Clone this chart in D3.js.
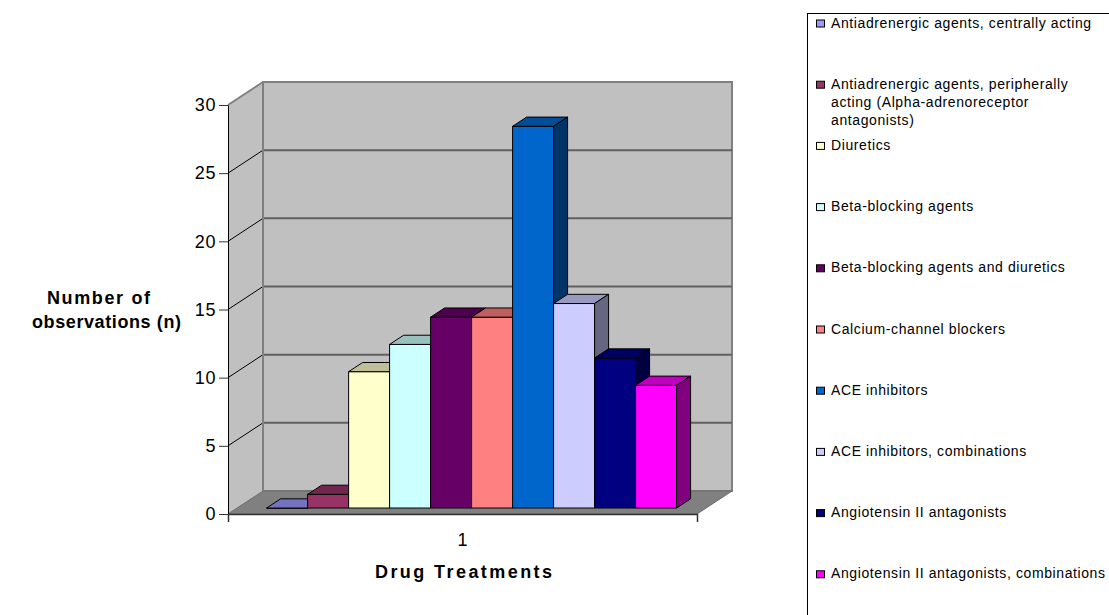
<!DOCTYPE html>
<html>
<head>
<meta charset="utf-8">
<script src="https://cdn.jsdelivr.net/npm/d3@7"></script>
<style>
  body { margin: 0; background: #fff; }
  svg { display: block; }
  text { font-family: "Liberation Sans", Arial, sans-serif; fill: #000; }
</style>
</head>
<body>
<svg id="chart" width="1109" height="615"></svg>
<script>
// ---- data ----
const categories = ["1"];
const seriesNames = [
  "Antiadrenergic agents, centrally acting",
  "Antiadrenergic agents, peripherally\nacting (Alpha-adrenoreceptor\nantagonists)",
  "Diuretics",
  "Beta-blocking agents",
  "Beta-blocking agents and diuretics",
  "Calcium-channel blockers",
  "ACE inhibitors",
  "ACE inhibitors, combinations",
  "Angiotensin II antagonists",
  "Angiotensin II antagonists, combinations"
];
const seriesValues = [0, 1, 10, 12, 14, 14, 28, 15, 11, 9];
const yTicks = [0, 5, 10, 15, 20, 25, 30];
const yTitleLines = ["Number of", "observations (n)"];
const xTitle = "Drug Treatments";

// ---- palette ----
const palette = ["#9999FF", "#993366", "#FFFFCC", "#CCFFFF", "#660066",
                 "#FF8080", "#0066CC", "#CCCCFF", "#000080", "#FF00FF"];

// ---- 3D frame geometry ----
const X0 = 228, X1 = 697;          // front edge of the floor
const DX = 35, DY = -23;           // offset from the front plane to the back wall
const barFront = 0.26, barBack = 0.66; // depth range occupied by the bars

const svg = d3.select("#chart");
const y = d3.scaleLinear().domain([0, 30]).range([514, 105]);
const cat = d3.scaleBand().domain(categories).range([X0, X1]).padding(0);
const color = d3.scaleOrdinal().domain(seriesNames).range(palette);

const P = (x, v, p) => [x + p * DX, y(v) + p * DY];
const poly = pts => "M" + pts.map(d => d.join(",")).join("L") + "Z";

const frame = svg.append("g");
const yMin = y.domain()[0], yMax = y.domain()[1];

// side wall
frame.append("path")
  .attr("d", poly([P(X0, yMax, 0), P(X0, yMax, 1), P(X0, yMin, 1), P(X0, yMin, 0)]))
  .attr("fill", "#c0c0c0");
// back wall
frame.append("path")
  .attr("d", poly([P(X0, yMax, 1), P(X1, yMax, 1), P(X1, yMin, 1), P(X0, yMin, 1)]))
  .attr("fill", "#c0c0c0").attr("stroke", "#808080").attr("stroke-width", 2);
// floor
frame.append("path")
  .attr("d", poly([P(X0, yMin, 0), P(X1, yMin, 0), P(X1, yMin, 1), P(X0, yMin, 1)]))
  .attr("fill", "#808080").attr("stroke", "#6a6a6a").attr("stroke-width", 1);
// top edge of side wall
frame.append("line")
  .attr("x1", P(X0, yMax, 0)[0]).attr("y1", P(X0, yMax, 0)[1])
  .attr("x2", P(X0, yMax, 1)[0]).attr("y2", P(X0, yMax, 1)[1])
  .attr("stroke", "#808080").attr("stroke-width", 2);

// gridlines on back wall and side wall
const grid = yTicks.filter(v => v > yMin && v < yMax);
frame.selectAll(".gback").data(grid).join("line")
  .attr("x1", v => P(X0, v, 1)[0]).attr("y1", v => P(X0, v, 1)[1])
  .attr("x2", v => P(X1, v, 1)[0]).attr("y2", v => P(X1, v, 1)[1])
  .attr("stroke", "#606060").attr("stroke-width", 2);
frame.selectAll(".gside").data(grid).join("line")
  .attr("x1", v => P(X0, v, 0)[0]).attr("y1", v => P(X0, v, 0)[1])
  .attr("x2", v => P(X0, v, 1)[0]).attr("y2", v => P(X0, v, 1)[1])
  .attr("stroke", "#000").attr("stroke-width", 1);
// vertical edge between side wall and back wall
frame.append("line")
  .attr("x1", P(X0, yMax, 1)[0]).attr("y1", P(X0, yMax, 1)[1])
  .attr("x2", P(X0, yMin, 1)[0]).attr("y2", P(X0, yMin, 1)[1])
  .attr("stroke", "#808080").attr("stroke-width", 2);

// ---- bars ----
const bars = svg.append("g");
categories.forEach(c => {
  const s = d3.scaleBand().domain(seriesNames)
    .range([cat(c), cat(c) + cat.bandwidth()])
    .paddingInner(0).paddingOuter(0.72);
  seriesNames.forEach((name, i) => {
    const v = seriesValues[i];
    const xl = s(name), xr = xl + s.bandwidth();
    const base = d3.color(color(name));
    const g = bars.append("g").attr("stroke", "#000").attr("stroke-width", 1)
      .attr("stroke-linejoin", "round");
    // front face
    g.append("path").attr("fill", base.formatHex())
      .attr("d", poly([P(xl, v, barFront), P(xr, v, barFront), P(xr, 0, barFront), P(xl, 0, barFront)]));
    // top face
    g.append("path").attr("fill", d3.rgb(base.r * 0.75, base.g * 0.75, base.b * 0.75).formatHex())
      .attr("d", poly([P(xl, v, barFront), P(xr, v, barFront), P(xr, v, barBack), P(xl, v, barBack)]));
    // right face
    g.append("path").attr("fill", d3.rgb(base.r * 0.5, base.g * 0.5, base.b * 0.5).formatHex())
      .attr("d", poly([P(xr, v, barFront), P(xr, v, barBack), P(xr, 0, barBack), P(xr, 0, barFront)]));
  });
});

// ---- axes ----
const yAxis = svg.append("g").attr("transform", `translate(${X0},0)`)
  .call(d3.axisLeft(y).tickValues(yTicks).tickSize(9).tickSizeOuter(0).tickPadding(3));
yAxis.select(".domain").attr("stroke", "#000");
yAxis.selectAll(".tick line").attr("stroke", "#333");
yAxis.selectAll(".tick text").attr("font-size", 18).attr("letter-spacing", 0.6)
  .style("font-family", '"Liberation Sans", Arial, sans-serif');

const xAxis = svg.append("g").attr("transform", `translate(0,${y(0)})`)
  .call(d3.axisBottom(cat).tickSizeInner(0).tickSizeOuter(8).tickPadding(19));
xAxis.select(".domain").attr("stroke", "#333").attr("stroke-width", 1.5);
xAxis.selectAll(".tick text").attr("font-size", 18)
  .style("font-family", '"Liberation Sans", Arial, sans-serif');

// axis titles
svg.append("text").attr("x", 47).attr("y", 304)
  .attr("font-size", 18).attr("font-weight", "bold")
  .attr("textLength", 103).attr("lengthAdjust", "spacing")
  .text(yTitleLines[0]);
svg.append("text").attr("x", 32).attr("y", 328)
  .attr("font-size", 18).attr("font-weight", "bold")
  .attr("textLength", 149).attr("lengthAdjust", "spacing")
  .text(yTitleLines[1]);
svg.append("text").attr("x", 375).attr("y", 578)
  .attr("font-size", 18).attr("font-weight", "bold")
  .attr("textLength", 177).attr("lengthAdjust", "spacing")
  .text(xTitle);

// ---- legend ----
const legend = svg.append("g");
legend.append("rect").attr("x", 807.5).attr("y", 13.5)
  .attr("width", 420).attr("height", 700)
  .attr("fill", "#fff").attr("stroke", "#000");
const entryStep = 61.2, firstBaseline = 27.5, lineGap = 18;
const entries = legend.selectAll(".entry").data(seriesNames).join("g")
  .attr("transform", (d, i) => `translate(0,${firstBaseline + entryStep * i})`);
entries.append("rect").attr("x", 816.5).attr("y", -7.5)
  .attr("width", 8).attr("height", 7)
  .attr("fill", d => color(d)).attr("stroke", "#000");
entries.append("text").attr("x", 831).attr("y", 0)
  .attr("font-size", 14).attr("letter-spacing", 0.6)
  .selectAll("tspan").data(d => d.split("\n")).join("tspan")
  .attr("x", 831).attr("dy", (d, i) => i ? lineGap : 0)
  .text(d => d);
</script>
</body>
</html>
